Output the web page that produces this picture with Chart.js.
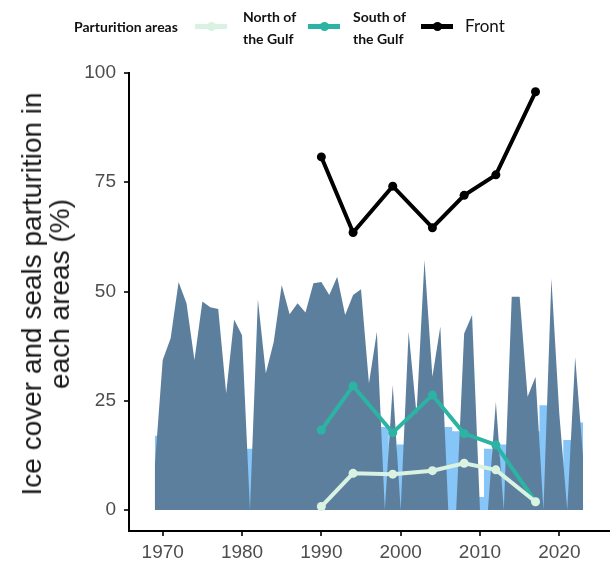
<!DOCTYPE html>
<html><head><meta charset="utf-8">
<script src="https://cdn.jsdelivr.net/npm/chart.js@4.4.1/dist/chart.umd.min.js"></script>
<style>
body{margin:0;background:#fff;}
#wrap{position:relative;width:613px;height:564px;overflow:hidden;background:#fff;}
#c{position:absolute;left:0;top:0;}
.lg{position:absolute;font-family:'Lato',sans-serif;color:#111;white-space:nowrap;}
.b{font-weight:bold;font-size:14px;}
.sw{position:absolute;height:5px;width:32px;}
.dot{position:absolute;width:9px;height:9px;border-radius:50%;}
#ytitle{position:absolute;left:46px;top:294px;transform:translate(-50%,-50%) rotate(-90deg);font-family:'Liberation Sans',Arial,sans-serif;font-size:28px;line-height:28px;color:#1a1a1a;text-align:center;white-space:nowrap;}
</style></head>
<body>
<div id="wrap">
<canvas id="c" width="613" height="564"></canvas>
<div class="lg b" style="left:74px;top:18px;line-height:18px;">Parturition areas</div>
<div class="sw" style="left:195px;top:24px;background:#d9f2e1;"></div><div class="dot" style="left:207px;top:22px;background:#d9f2e1;"></div>
<div class="lg b" style="left:243px;top:6px;line-height:22px;">North of<br>the Gulf</div>
<div class="sw" style="left:308px;top:24px;background:#2bb3a3;"></div><div class="dot" style="left:320px;top:22px;background:#2bb3a3;"></div>
<div class="lg b" style="left:353px;top:6px;line-height:22px;">South of<br>the Gulf</div>
<div class="sw" style="left:421px;top:24px;background:#000;"></div><div class="dot" style="left:433px;top:22px;background:#000;"></div>
<div class="lg" style="left:465px;top:16px;font-size:17px;line-height:20px;">Front</div>
<div id="ytitle">Ice cover and seals parturition in<br>each areas (%)</div>
</div>
<script>
const years = [1969,1970,1971,1972,1973,1974,1975,1976,1977,1978,1979,1980,1981,1982,1983,1984,1985,1986,1987,1988,1989,1990,1991,1992,1993,1994,1995,1996,1997,1998,1999,2000,2001,2002,2003,2004,2005,2006,2007,2008,2009,2010,2011,2012,2013,2014,2015,2016,2017,2018,2019,2020,2021,2022,2023];
const iceCover = [10,34.3,39.3,52.2,47.3,34.3,47.7,46.4,46,26.7,43.6,40,0,48.2,31.3,38.5,51.5,44.8,47.3,45.2,51.9,52.2,49.2,53.4,44.6,49.2,50.5,29,40.8,0,28.6,0,40.8,22,57.2,30.5,42,0,0,40.4,44.6,0,0,24.8,0,48.8,48.8,25.9,30.5,0,53,22,0,35,12];
const iceCoverAlt = [17,10,10,10,10,10,10,10,10,10,10,10,14,10,10,10,10,10,10,10,10,10,10,10,10,10,10,10,10,19,10,15,10,10,10,10,10,19,18,10,10,3,14,10,15,10,10,10,18,24,10,10,16,10,20];
const surveyYears = [1990,1994,1999,2004,2008,2012,2017];
const front = [80.8,63.5,74.1,64.6,72.0,76.7,95.7];
const south = [18.3,28.4,17.7,26.3,17.5,14.9,1.9];
const north = [0.8,8.4,8.2,9.0,10.7,9.2,1.9];
const xTicks = [1970,1980,1990,2000,2010,2020];
const yTicks = [0,25,50,75,100];

const pts = (xs, ys) => xs.map((x, i) => ({x: x, y: ys[i]}));
const lineDs = (label, ys, col) => ({label, data: pts(surveyYears, ys), borderColor: col, backgroundColor: col,
  borderWidth: 4, pointRadius: 4.5, pointBorderWidth: 0, pointBackgroundColor: col, fill: false, tension: 0});
const tickFont = {size: 19, family: "'Liberation Sans', Arial, sans-serif"};

new Chart(document.getElementById('c'), {
  type: 'line',
  data: {datasets: [
    lineDs('Front', front, '#000000'),
    lineDs('North of the Gulf', north, '#d9f2e1'),
    lineDs('South of the Gulf', south, '#2bb3a3'),
    {label: 'Ice cover', data: pts(years, iceCover), borderWidth: 0, borderColor: 'rgba(0,0,0,0)', pointRadius: 0,
      fill: 'origin', backgroundColor: '#5d7f9e', tension: 0},
    {label: 'Ice cover (alt)', data: pts(years, iceCoverAlt), stepped: 'middle', borderWidth: 0, borderColor: 'rgba(0,0,0,0)',
      pointRadius: 0, fill: 'origin', backgroundColor: '#86c5f7'}
  ]},
  options: {
    responsive: false, animation: false,
    layout: {padding: {top: 73, right: 0, left: 0, bottom: 0}},
    plugins: {legend: {display: false}, tooltip: {enabled: false}},
    scales: {
      x: {type: 'linear', min: 1965.75, max: 2026.2,
        afterBuildTicks: s => { s.ticks = xTicks.map(v => ({value: v})); },
        afterFit: s => { s.height = 33; },
        grid: {drawOnChartArea: false, drawTicks: true, tickLength: 5, color: '#333', lineWidth: 2},
        border: {display: true, color: '#000', width: 2},
        ticks: {color: '#4d4d4d', font: tickFont, padding: 5, maxRotation: 0, autoSkip: false, callback: v => String(v)}},
      y: {min: -4.8, max: 100,
        afterBuildTicks: s => { s.ticks = yTicks.map(v => ({value: v})); },
        afterFit: s => { s.width = 129; },
        grid: {drawOnChartArea: false, drawTicks: true, tickLength: 5, color: '#333', lineWidth: 2},
        border: {display: true, color: '#000', width: 2},
        ticks: {color: '#4d4d4d', font: tickFont, padding: 8, autoSkip: false, callback: v => String(v)}}
    }
  }
});
</script>
</body></html>
